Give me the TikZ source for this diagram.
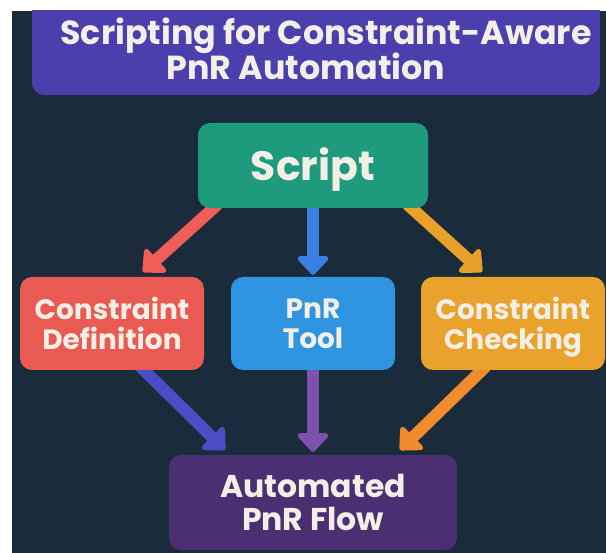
\documentclass[tikz,border=0pt]{standalone}
\usepackage{fontspec}
\setmainfont{Poppins}
\usetikzlibrary{arrows.meta,calc}
\definecolor{bgc}{HTML}{1A2B3B}
\definecolor{titlec}{HTML}{4B3FAE}
\definecolor{greenc}{HTML}{1E9B7D}
\definecolor{redc}{HTML}{E95B52}
\definecolor{bluec}{HTML}{2F95E0}
\definecolor{orangec}{HTML}{E9A22B}
\definecolor{autoc}{HTML}{4C2F72}
\definecolor{redarr}{HTML}{F05E58}
\definecolor{bluearr}{HTML}{3A80E3}
\definecolor{orangearr}{HTML}{E8A22C}
\definecolor{indigoarr}{HTML}{4C4CC5}
\definecolor{purplearr}{HTML}{7C52AD}
\definecolor{orange2arr}{HTML}{F08C2C}
\definecolor{txt}{HTML}{F3EFE6}
\pgfdeclarelayer{bg}
\pgfdeclarelayer{arrows}
\pgfsetlayers{bg,arrows,main}
\tikzset{
  box/.style={rounded corners=12pt, text=txt, align=center, inner sep=0pt,
    font=\bfseries\fontsize{28}{30}\selectfont},
  arr/.style={line width=12pt, -{Triangle[width=36pt,length=20pt,round]}},
}
\begin{document}
\begin{tikzpicture}[x=1pt,y=-1pt]
\useasboundingbox (0,0) rectangle (606,553);
\begin{pgfonlayer}{bg}
  \fill[white] (0,0) rectangle (606,553);
  \fill[bgc] (12,11) rectangle (606,553);
\end{pgfonlayer}
% title box
\begin{scope}
  \clip (12,11) rectangle (606,553);
  \node[box, fill=titlec, minimum width=568pt, minimum height=115pt] (titlebox) at (316,37.5) {};
\end{scope}
\node[anchor=base, text=txt, font=\bfseries\fontsize{33.3}{36}\selectfont] (title1) at (326,45) {Scripting for Constraint-Aware};
\node[anchor=base, text=txt, font=\bfseries\fontsize{33.3}{36}\selectfont] (title2) at (306,80) {PnR Automation};
% boxes
\node[box, fill=greenc, minimum width=230pt, minimum height=85pt, text depth=2pt,
  font=\bfseries\fontsize{41}{43}\selectfont] (script) at (313,165.5) {Script};
\node[box, fill=redc, minimum width=184pt, minimum height=93pt] (cdef) at (112,323.5) {Constraint\\Definition};
\node[box, fill=bluec, minimum width=164pt, minimum height=93pt] (pnr) at (313,323.5) {PnR\\Tool};
\node[box, fill=orangec, minimum width=184pt, minimum height=93pt, text depth=0pt] (cchk) at (513,323.5) {Constraint\\Checking};
\node[box, fill=autoc, minimum width=288pt, minimum height=95pt,
  font=\bfseries\fontsize{31.5}{32.5}\selectfont] (auto) at (313,502.5) {Automated\\PnR Flow};
% arrows
\begin{pgfonlayer}{arrows}
  \draw[arr, redarr] ($(script.south west)+(20,-4)$) -- ($(cdef.north)+(31,-5)$);
  \draw[arr, bluearr] ($(script.south)+(0,-4)$) -- ($(pnr.north)+(0,-2)$);
  \draw[arr, orangearr] ($(script.south east)+(-21,-4)$) -- ($(cchk.north)+(-31,-5)$);
  \draw[arr, indigoarr] ($(cdef.south)+(28,-4)$) -- ($(auto.north)+(-88,-5)$);
  \draw[arr, purplearr] ($(pnr.south)+(0,-4)$) -- ($(auto.north)+(0,-3)$);
  \draw[arr, orange2arr] ($(cchk.south)+(-27,-4)$) -- ($(auto.north)+(87,-5)$);
\end{pgfonlayer}
\end{tikzpicture}
\end{document}
